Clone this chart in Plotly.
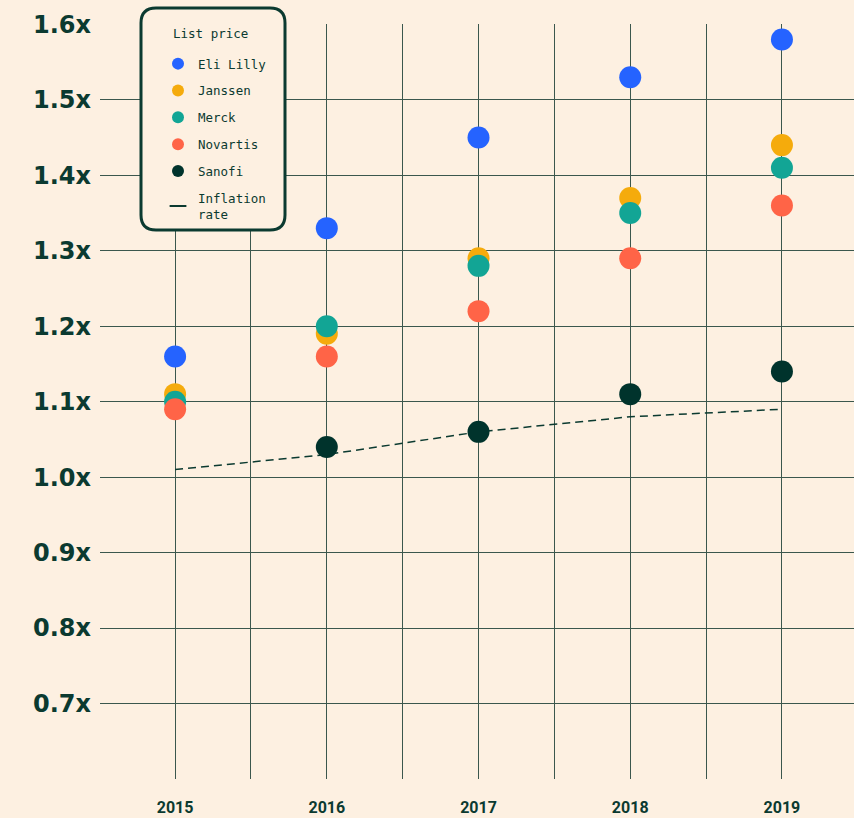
import plotly.graph_objects as go

# data
years = [2015, 2016, 2017, 2018, 2019]
eli_lilly = [1.16, 1.33, 1.45, 1.53, 1.58]
janssen = [1.11, 1.19, 1.29, 1.37, 1.44]
merck = [1.10, 1.20, 1.28, 1.35, 1.41]
novartis = [1.09, 1.16, 1.22, 1.29, 1.36]
sanofi_years = [2016, 2017, 2018, 2019]
sanofi = [1.04, 1.06, 1.11, 1.14]
inflation = [1.01, 1.03, 1.06, 1.08, 1.09]

y_ticks = [0.7, 0.8, 0.9, 1.0, 1.1, 1.2, 1.3, 1.4, 1.5, 1.6]
y_labels = [f"{v:.1f}x" for v in y_ticks]
x_labels = [str(y) for y in years]

BG = "#fdf0e1"
DARK = "#0b3a30"
GRID = "#3b574d"
MONO = "DejaVu Sans Mono"

series = [
    ("Eli Lilly", years, eli_lilly, "#2563ff"),
    ("Janssen", years, janssen, "#f5ab0c"),
    ("Merck", years, merck, "#12a595"),
    ("Novartis", years, novartis, "#ff6447"),
    ("Sanofi", sanofi_years, sanofi, "#00332c"),
]

fig = go.Figure()

# inflation line drawn first so the dots sit on top of it
fig.add_trace(go.Scatter(
    x=years, y=inflation, mode="lines", name="Inflation<br>rate",
    line=dict(color=DARK, width=1.5, dash="8px,5px"),
    showlegend=False,
))
# legend-only entry: short solid dash like the reference key
fig.add_trace(go.Scatter(
    x=[None], y=[None], mode="markers", name="Inflation<br>rate",
    marker=dict(symbol="line-ew", size=9, line=dict(color=DARK, width=2)),
    legendgroup="inf", legendrank=10,
))

for i, (name, xs, ys, color) in enumerate(series):
    fig.add_trace(go.Scatter(
        x=xs, y=ys, mode="markers", name=name,
        marker=dict(size=22, color=color, line=dict(width=0)),
        legendgroup=name, legendrank=i + 1,
    ))

# rounded legend box (paper coords), plot area is 754 x 755 px
def px_x(p):
    return (p - 100) / 754

def px_y(p):
    return (779 - p) / 755

x0, x1, y0, y1 = px_x(141), px_x(285), px_y(230), px_y(8)
rx, ry = 15 / 754, 15 / 755
box = (f"M {x0 + rx},{y1} L {x1 - rx},{y1} Q {x1},{y1} {x1},{y1 - ry} "
       f"L {x1},{y0 + ry} Q {x1},{y0} {x1 - rx},{y0} "
       f"L {x0 + rx},{y0} Q {x0},{y0} {x0},{y0 + ry} "
       f"L {x0},{y1 - ry} Q {x0},{y1} {x0 + rx},{y1} Z")

fig.add_shape(type="path", path=box, xref="paper", yref="paper",
              fillcolor=BG, line=dict(color=DARK, width=3), layer="above")

fig.add_annotation(text="List price", xref="paper", yref="paper",
                   x=px_x(171), y=px_y(33), xanchor="left", yanchor="middle",
                   showarrow=False, font=dict(family=MONO, size=12.5, color=DARK))

fig.update_layout(
    width=854, height=818,
    margin=dict(l=100, r=0, t=24, b=39),
    paper_bgcolor=BG, plot_bgcolor=BG,
    showlegend=True,
    legend=dict(
        font=dict(family=MONO, size=12.5, color=DARK),
        x=px_x(158), y=px_y(49), xanchor="left", yanchor="top",
        bgcolor="rgba(0,0,0,0)", borderwidth=0,
        traceorder="grouped", tracegroupgap=7.6,
        itemsizing="constant",
    ),
    xaxis=dict(
        range=[2014.505, 2019.475],
        tickvals=years, ticktext=x_labels,
        showgrid=True, gridcolor=GRID, gridwidth=1,
        minor=dict(tickvals=[2015.5, 2016.5, 2017.5, 2018.5],
                   showgrid=True, gridcolor=GRID, gridwidth=1),
        zeroline=False, showline=False, ticks="",
        tickfont=dict(family="Roboto", size=16, color=DARK, weight="bold"),
        ticklabelstandoff=17,
    ),
    yaxis=dict(
        range=[0.6, 1.6005],
        tickvals=y_ticks, ticktext=y_labels,
        showgrid=True, gridcolor=GRID, gridwidth=1,
        zeroline=False, showline=False, ticks="",
        tickfont=dict(family="DejaVu Sans", size=24, color=DARK, weight="bold"),
        ticklabelstandoff=8,
    ),
)

fig.write_html("out.html", config={"displayModeBar": False},
               post_script="document.body.style.margin='0';")
